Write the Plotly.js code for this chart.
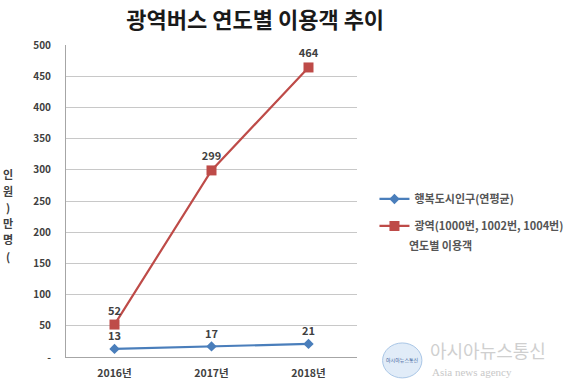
<!DOCTYPE html>
<html><head><meta charset="utf-8">
<script src="https://cdn.plot.ly/plotly-3.0.1.min.js"></script>
<style>html,body{margin:0;padding:0;background:#fff}#chart{width:580px;height:387px}</style>
</head><body><div id="chart"></div>
<script>
const categories = ['2016년', '2017년', '2018년'];
const populationValues = [13, 17, 21];
const busValues = [52, 299, 464];
const populationName = '행복도시인구(연평균)';
const busName = '광역(1000번, 1002번, 1004번)';
const busNameLine2 = '연도별 이용객';
const yTickVals = [0, 50, 100, 150, 200, 250, 300, 350, 400, 450, 500];
const yTickText = ['-', '50', '100', '150', '200', '250', '300', '350', '400', '450', '500'];
const chartTitle = '광역버스 연도별 이용객 추이';
const yTitleChars = ['인', '원', ')', '만', '명', '('];

const font = 'Noto Sans CJK KR, Noto Sans, sans-serif';
const traces = [
  {x: categories, y: populationValues, name: populationName, legendgroup: 'pop', type: 'scatter', mode: 'lines+markers+text',
   line: {color: '#4a7ebb', width: 2.2}, marker: {symbol: 'diamond', size: 8, color: '#4a7ebb'},
   text: populationValues.map(String), textposition: 'top center',
   textfont: {family: font, size: 11, color: '#404040', weight: 'bold'}, cliponaxis: false},
  {x: categories, y: busValues, name: busName, legendgroup: 'bus', type: 'scatter', mode: 'lines+markers+text',
   line: {color: '#be4b48', width: 2.2}, marker: {symbol: 'square', size: 10, color: '#be4b48'},
   text: busValues.map(String), textposition: 'top center',
   textfont: {family: font, size: 11, color: '#404040', weight: 'bold'}, cliponaxis: false}
];
const yTitleAnns = yTitleChars.map((c, i) => ({
  text: c, xref: 'paper', yref: 'paper', x: -0.2, y: 0.585 - i * 0.052, xanchor: 'center', yanchor: 'middle',
  showarrow: false, font: {family: font, size: 11, color: '#404040', weight: 'bold'}
}));
const layout = {
  width: 580, height: 387,
  margin: {l: 66, r: 218, t: 45, b: 30},
  paper_bgcolor: '#fff', plot_bgcolor: '#fff',
  title: {text: chartTitle, x: 0.44, xanchor: 'center', y: 0.948, yanchor: 'middle',
          font: {family: font, size: 22, color: '#1a1a1a', weight: 'bold'}},
  showlegend: true,
  legend: {x: 1.06, y: 0.553, xanchor: 'left', yanchor: 'top', bgcolor: 'rgba(0,0,0,0)',
           font: {family: font, size: 11, color: '#555', weight: 'bold'}, itemwidth: 30, tracegroupgap: 8},
  xaxis: {type: 'category', range: [-0.5, 2.5], showgrid: false, zeroline: false,
          showline: true, linecolor: '#a6a6a6', linewidth: 1, ticks: '',
          tickfont: {family: font, size: 10.5, color: '#404040', weight: 'bold'}, ticklabelstandoff: 6},
  yaxis: {range: [0, 500], tickvals: yTickVals, ticktext: yTickText, showgrid: true, gridcolor: '#c8c8c8',
          zeroline: false, showline: true, linecolor: '#a6a6a6', linewidth: 1, ticks: '',
          tickfont: {family: font, size: 10, color: '#404040', weight: 'bold'}, ticklabelstandoff: 12},
  annotations: yTitleAnns.concat([
    {text: busNameLine2, xref: 'paper', yref: 'paper', x: 1.172, y: 0.359, xanchor: 'left', yanchor: 'middle',
     showarrow: false, font: {family: font, size: 11, color: '#555', weight: 'bold'}},
    {text: '아시아뉴스통신', xref: 'paper', yref: 'paper', x: 1.245, y: 0.022, xanchor: 'left', yanchor: 'middle',
     showarrow: false, font: {family: font, size: 18, color: '#cfcfcf'}},
    {text: 'Asia news agency', xref: 'paper', yref: 'paper', x: 1.25, y: -0.048, xanchor: 'left', yanchor: 'middle',
     showarrow: false, font: {family: 'Liberation Serif, serif', size: 11, color: '#c8c8c8'}},
    {text: '아시아뉴스통신', xref: 'paper', yref: 'paper', x: 1.155, y: -0.01, xanchor: 'center', yanchor: 'middle',
     showarrow: false, font: {family: font, size: 5, color: '#3a5f9a'}}
  ]),
  shapes: [
    {type: 'circle', xref: 'paper', yref: 'paper', x0: 1.088, x1: 1.223, y0: -0.067, y1: 0.045,
     line: {color: '#a9c6e6', width: 1}, fillcolor: 'rgba(170,200,235,0.35)'}
  ]
};
Plotly.newPlot('chart', traces, layout, {displayModeBar: false, staticPlot: true});
</script></body></html>
